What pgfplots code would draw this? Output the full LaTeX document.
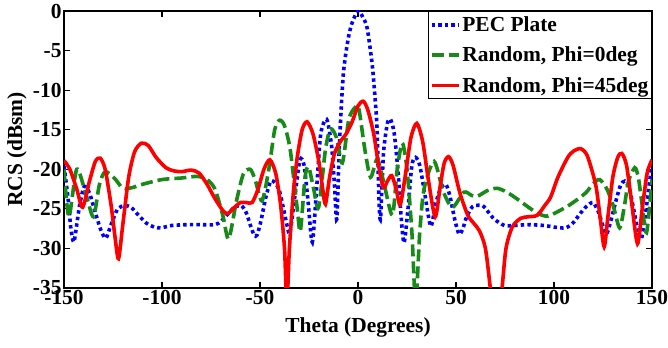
\documentclass[border=0pt]{standalone}
\usepackage{fontspec}
\setmainfont{Liberation Serif}
\usepackage{pgfplots}
\pgfplotsset{compat=1.18}
\definecolor{pecblue}{RGB}{0,0,255}
\definecolor{rgreen}{RGB}{24,138,24}
\definecolor{rred}{RGB}{255,0,0}
\newcommand{\bigfont}{\bfseries\fontsize{21.5}{24}\selectfont}
\begin{document}
\begin{tikzpicture}
\begin{axis}[
  scale only axis,
  width=588bp, height=277bp,
  xmin=-150, xmax=150, ymin=-35, ymax=0,
  xtick={-150,-100,-50,0,50,100,150},
  ytick={-35,-30,-25,-20,-15,-10,-5,0},
  tick align=inside, tick pos=both,
  major tick length=6bp,
  axis line style={line width=1.3pt},
  every tick/.style={line width=1.1pt, black},
  /pgf/number format/assume math mode=true,
  ticklabel style={font=\bigfont},
  xticklabel style={yshift=1bp},
  yticklabel style={xshift=1bp},
  xlabel={Theta (Degrees)},
  ylabel={RCS (dBsm)},
  every axis x label/.style={at={(axis description cs:0.5,0)}, anchor=center, yshift=-39bp, font=\bigfont},
  every axis y label/.style={at={(axis description cs:-0.0799,0.5)}, anchor=center, rotate=90, font=\bigfont},
  legend style={at={(axis description cs:1,1)}, anchor=north east, draw=black, line width=1.3pt,
    font=\bigfont, inner xsep=1bp, inner ysep=3bp, row sep=10bp,
    nodes={inner xsep=2bp}},
  legend cell align=left,
  legend image code/.code={\draw[#1] (0bp,0bp) -- (27bp,0bp);},
]
\addplot[pecblue, line width=3.6bp, dash pattern=on 3.4bp off 3.2bp, smooth, tension=0.45] coordinates {
(-150,-19.6) (-148,-23.5) (-146.5,-27.5) (-145,-29.2) (-143.5,-27) (-142,-24.5) (-139.7,-22.2)
(-137,-23) (-134,-25.5) (-131,-27.8) (-128.6,-28.7) (-126,-27) (-122.6,-25) (-119,-24.6)
(-115.8,-24.8) (-112,-25.8) (-108,-26.8) (-104,-27.3) (-100.5,-27.4) (-95,-27.1) (-87,-27)
(-80,-27) (-73,-27) (-70,-26.6) (-67,-25.8) (-63,-24.8) (-59.5,-24.6) (-57,-25.5) (-55,-27)
(-53,-28.3) (-51.5,-28.3) (-49.5,-26.5) (-47,-23.5) (-44.5,-21.5) (-42,-21.8) (-40,-22.8)
(-38,-25) (-36,-27.3) (-34.7,-28) (-32,-23) (-29.6,-18.8) (-27.5,-19.5) (-25.5,-24)
(-23.3,-29.2) (-21,-22) (-19,-15.5) (-16,-13.7) (-13.5,-17) (-12,-22) (-10.8,-26.3)
(-9.5,-17) (-7.5,-8) (-5,-3.5) (-3,-1.5) (0,0) (2.5,-0.8) (4.7,-2.2) (7.3,-6.9) (9,-12)
(9.8,-15.4) (10.7,-23.8) (11.5,-26.2) (13,-18) (15,-14.2) (16.6,-13.7) (18.5,-15.5)
(20.5,-20.5) (22,-26) (23.5,-29.3) (25.5,-25) (27.5,-19.5) (29.4,-18.5) (31.5,-19.5)
(34,-23) (37.1,-27.2) (39.5,-24.5) (42,-22.5) (44.8,-21.9) (47,-23.5) (49.5,-26.5)
(51.6,-28.2) (53.5,-27.5) (55,-26.3) (57.5,-25) (59.3,-24.6) (63.6,-24.6) (66.5,-25.4)
(69.5,-26.3) (74.7,-27.1) (80,-27.1) (86.6,-27) (95,-27.1) (100,-27.3) (106,-27.4)
(110,-26.7) (113,-25.7) (116.5,-24.7) (119.9,-24.2) (122.5,-25.3) (124.5,-26.8)
(126.7,-28.2) (129,-26.5) (131.8,-23.8) (134,-22) (136.1,-21.5) (138.5,-22.5) (141,-25.5)
(143,-28) (144.6,-28.8) (146.5,-26) (148.5,-22) (150,-19.4)
};
\addlegendentry{PEC Plate}
\addplot[rgreen, line width=3.6bp, dash pattern=on 12bp off 5bp, smooth, tension=0.45] coordinates {
(-150,-20) (-147.5,-26) (-143.5,-20) (-139,-23) (-135,-26) (-132,-22) (-129,-20.3)
(-124,-21.2) (-120,-22.4) (-115,-22.3) (-110,-21.9) (-100,-21.3) (-90,-21.1) (-82,-20.9)
(-77,-21.3) (-73,-22.5) (-69,-25.8) (-66,-28.8) (-62,-24) (-58.5,-20.6) (-55,-20)
(-52.5,-21.3) (-49,-24) (-45.5,-20) (-42.5,-15) (-40,-13.8) (-37.5,-14.5) (-34.6,-17.5)
(-31,-25) (-29.4,-27.8) (-27,-21) (-25.2,-19.7) (-22.6,-22.5) (-20.1,-24.8) (-16.6,-17.5)
(-14,-14.9) (-11,-16) (-8,-19.2) (-4.7,-13.7) (-1.5,-12.2) (0.4,-12.3) (3.5,-17.5)
(6.4,-21) (9.8,-18.7) (13,-21.5) (17.5,-25.8) (20,-20) (22.6,-16.7) (25,-20) (27.5,-28)
(29.4,-37) (31.5,-28) (33.7,-22.5) (38.8,-19) (43.5,-22.8) (48.2,-24.8) (54,-22.9)
(58,-23.3) (61,-23.4) (66,-22.7) (71,-22.4) (76,-22.9) (81.5,-23.8) (87,-24.8) (92,-25.6)
(97,-25.9) (106,-24.8) (112,-23.8) (116.5,-22.9) (120,-21.8) (123.3,-21.3) (127,-22.5)
(130.2,-24.6) (133.5,-27.4) (136,-24.5) (138,-21.5) (141.2,-19.8) (143,-21) (144.6,-23.8)
(147.2,-28) (150,-21.3)
};
\addlegendentry{Random, Phi=0deg}
\addplot[rred, line width=3.6bp, smooth, tension=0.45] coordinates {
(-150,-18.9) (-147,-20) (-143.5,-22.5) (-140.5,-24.8) (-137,-21.5) (-134,-19) (-131.5,-18.6)
(-129,-20) (-126,-24.5) (-124,-28.5) (-122.2,-31.3) (-120,-27) (-117,-21) (-114,-17.8)
(-110.5,-16.7) (-107,-17) (-103,-18.5) (-98,-19.8) (-94,-20.2) (-90,-20.3) (-85,-20.1)
(-81,-20.5) (-77,-21.9) (-73,-23.7) (-69,-25.2) (-66.5,-25.6) (-63,-24.8) (-60,-24.2)
(-57,-24.2) (-54,-24.2) (-51,-22.5) (-48,-20) (-45,-18.8) (-42,-20.5) (-39.5,-24.5)
(-37.5,-30) (-36.3,-37) (-35,-30) (-33,-23) (-31,-18.5) (-28.5,-15) (-26,-14) (-23,-15.5)
(-20,-19) (-18,-22.5) (-16.6,-24.4) (-14.5,-21) (-12,-18) (-9,-16.5) (-6,-15.5) (-3,-14)
(0,-12) (2.7,-11.4) (5,-12.5) (8,-15.5) (10.5,-19.5) (12.9,-22.3) (15,-21.5) (17.2,-20.8)
(19.5,-22.5) (21.5,-24.5) (24,-21) (27,-16) (30,-14.2) (33,-16.5) (36,-21.5) (39.4,-26)
(42,-22) (44,-19.2) (46.2,-18.4) (48.5,-19.5) (52,-23) (56,-25.8) (59,-26.8) (62,-27.8)
(65,-30) (67.5,-35) (70.5,-42) (73.5,-35) (75.5,-30) (78.7,-27.3) (82.9,-26.2) (87,-26)
(91.5,-25.8) (95.5,-24.5) (98.3,-23.5) (102,-21) (107,-18.5) (110,-17.7) (113.6,-17.4)
(117,-18.3) (121.3,-22) (123.5,-26) (125.6,-29.8) (127.5,-26) (130,-21) (132.5,-18.5)
(134.6,-18) (137,-19.5) (139.5,-24) (142.6,-29.4) (145,-25) (147.5,-20.5) (150,-18.8)
};
\addlegendentry{Random, Phi=45deg}
\end{axis}
\pgfresetboundingbox
\path (-64bp,-60bp) rectangle (604bp,288bp);
\end{tikzpicture}
\end{document}
